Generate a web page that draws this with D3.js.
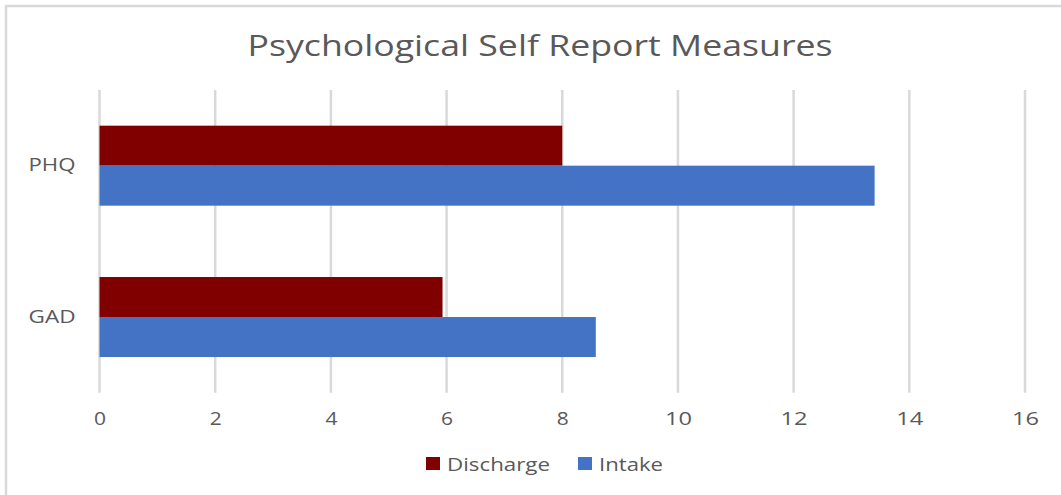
<!DOCTYPE html>
<html lang="en">
<head>
    <meta charset="UTF-8">
    <script src="https://cdn.jsdelivr.net/npm/d3@7"></script>
    <title>Psychological Self Report Measures</title>
    <style>
        body {
            margin: 0;
            background: white;
        }
        text {
            font-family: "Open Sans", sans-serif;
            fill: #595959;
        }
    </style>
</head>
<body>
    <div id="chart"></div>
    <script>
        // data
        const categories = ["PHQ", "GAD"];
        const series = ["Discharge", "Intake"];
        const discharge = [8.0, 5.93];
        const intake = [13.4, 8.58];
        const xTicks = [0, 2, 4, 6, 8, 10, 12, 14, 16];

        const colors = { Discharge: "#800000", Intake: "#4472C4" };

        const width = 1061, height = 495;
        const plot = { left: 99.5, right: 1025, top: 90, bottom: 392.7 };

        const svg = d3.select("#chart").append("svg")
            .attr("width", width)
            .attr("height", height);

        // frame (only top and left edges show)
        svg.append("path")
            .attr("d", `M6,${height} V6 H${width}`)
            .attr("fill", "none")
            .attr("stroke", "#d9d9d9")
            .attr("stroke-width", 2.5);

        svg.append("text")
            .attr("x", 540)
            .attr("y", 56)
            .attr("text-anchor", "middle")
            .style("font-size", "29px")
            .attr("textLength", 585)
            .attr("lengthAdjust", "spacingAndGlyphs")
            .text("Psychological Self Report Measures");

        const x = d3.scaleLinear().domain([0, 16]).range([plot.left, plot.right]);
        const y = d3.scaleBand().domain(categories).range([plot.top, plot.bottom]).paddingInner(0).paddingOuter(0);
        const inner = d3.scaleBand().domain(series).range([0, 80]);
        const bandOffset = (y.bandwidth() - 80) / 2;

        // gridlines
        svg.append("g")
            .selectAll("line")
            .data(xTicks)
            .join("line")
            .attr("x1", d => x(d))
            .attr("x2", d => x(d))
            .attr("y1", plot.top)
            .attr("y2", plot.bottom)
            .attr("stroke", "#d9d9d9")
            .attr("stroke-width", 2.5);

        // x axis labels
        const xAxis = svg.append("g")
            .attr("transform", `translate(0, ${plot.bottom})`)
            .call(d3.axisBottom(x).tickValues(xTicks).tickSize(0).tickPadding(19).tickFormat(d3.format("d")));
        xAxis.select(".domain").remove();
        xAxis.selectAll("text")
            .style("font-size", "19px")
            .style("font-family", "'Open Sans', sans-serif")
            .attr("fill", "#595959")
            .attr("textLength", d => d >= 10 ? 27 : 12)
            .attr("lengthAdjust", "spacingAndGlyphs");

        // y axis labels
        const yAxis = svg.append("g")
            .attr("transform", `translate(${plot.left}, 0)`)
            .call(d3.axisLeft(y).tickSize(0).tickPadding(24));
        yAxis.select(".domain").remove();
        yAxis.selectAll("text")
            .style("font-size", "18px")
            .style("font-family", "'Open Sans', sans-serif")
            .attr("fill", "#595959")
            .attr("textLength", 47)
            .attr("lengthAdjust", "spacingAndGlyphs");

        const rows = categories.map((c, i) => ({ cat: c, Discharge: discharge[i], Intake: intake[i] }));

        const groups = svg.append("g")
            .selectAll("g")
            .data(rows)
            .join("g")
            .attr("transform", d => `translate(0, ${y(d.cat) + bandOffset})`);

        groups.selectAll("rect")
            .data(d => series.map(s => ({ s: s, v: d[s] })))
            .join("rect")
            .attr("x", x(0))
            .attr("y", d => inner(d.s))
            .attr("width", d => x(d.v) - x(0))
            .attr("height", inner.bandwidth())
            .attr("fill", d => colors[d.s]);

        // legend
        const legendPos = [{ s: "Discharge", x: 426, w: 103 }, { s: "Intake", x: 578, w: 64 }];
        const legend = svg.append("g")
            .selectAll("g")
            .data(legendPos)
            .join("g")
            .attr("transform", d => `translate(${d.x}, 464)`);

        legend.append("rect")
            .attr("x", 0)
            .attr("y", -7)
            .attr("width", 14)
            .attr("height", 13)
            .attr("fill", d => colors[d.s]);

        legend.append("text")
            .attr("x", 21)
            .attr("y", 7)
            .style("font-size", "19px")
            .attr("textLength", d => d.w)
            .attr("lengthAdjust", "spacingAndGlyphs")
            .text(d => d.s);
    </script>
</body>
</html>
